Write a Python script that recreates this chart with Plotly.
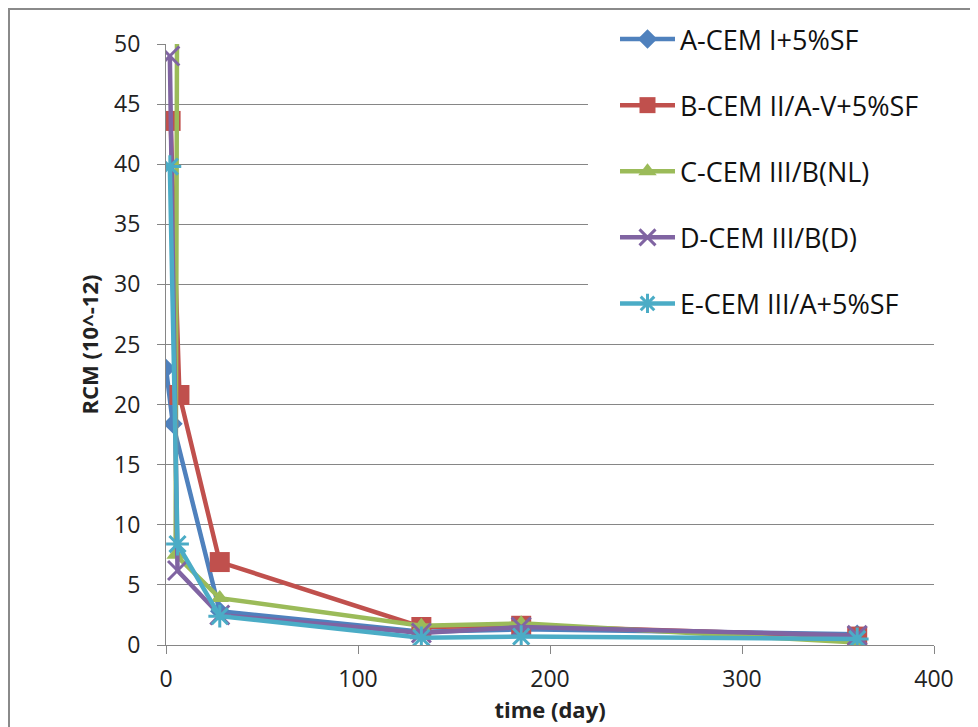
import plotly.graph_objects as go

# ---- data ----
series_names = ["A-CEM I+5%SF", "B-CEM II/A-V+5%SF", "C-CEM III/B(NL)", "D-CEM III/B(D)", "E-CEM III/A+5%SF"]
days_A = [0, 3.6, 28, 133, 185, 360]
rcm_A = [23.0, 18.4, 2.8, 1.1, 1.3, 0.9]
days_B = [2.4, 7, 28, 133, 185, 360]
rcm_B = [43.6, 20.8, 6.9, 1.5, 1.6, 0.7]
days_C = [5.8, 5.0, 28, 133, 185, 360]
rcm_C = [55.0, 7.5, 3.9, 1.6, 1.8, 0.2]
days_D = [2, 6, 28, 133, 185, 360]
rcm_D = [49.0, 6.2, 2.5, 1.0, 1.5, 0.8]
days_E = [2, 6, 28, 133, 185, 360]
rcm_E = [39.8, 8.4, 2.4, 0.6, 0.7, 0.5]

x_ticks = [0, 100, 200, 300, 400]
y_ticks = [0, 5, 10, 15, 20, 25, 30, 35, 40, 45, 50]

colors = ["#4F81BD", "#C0504D", "#9BBB59", "#8064A2", "#4BACC6"]
symbols = ["diamond", "square", "triangle-up", "x-thin-open", "asterisk-open"]
sizes = [15, 20, 16, 19, 19]
mline = [0, 0, 0, 3, 3]

xs = [days_A, days_B, days_C, days_D, days_E]
ys = [rcm_A, rcm_B, rcm_C, rcm_D, rcm_E]

# the page body has an 8px default margin: compensate so screen pixels match
OFF = 8
W, H = 978 - OFF, 727 - OFF
# plot area in screen pixels: x 166..934, y 44..645
SX0, SX1, SY0, SY1 = 166, 934, 44, 645
ML, MT = SX0 - OFF, SY0 - OFF
MR, MB = W - (SX1 - OFF), H - (SY1 - OFF)
PW, PH = SX1 - SX0, SY1 - SY0


def px_x(p):  # screen pixel -> paper x
    return (p - SX0) / PW


def px_y(p):  # screen pixel -> paper y
    return (SY1 - p) / PH


fig = go.Figure()
for i in range(5):
    fig.add_trace(go.Scatter(
        x=xs[i], y=ys[i], name=series_names[i], mode="lines+markers",
        legendgroup=str(i),
        line=dict(color=colors[i], width=4.5),
        marker=dict(symbol=symbols[i], size=sizes[i], color=colors[i],
                    line=dict(color=colors[i], width=mline[i])),
    ))

font_family = "Open Sans, Lato, sans-serif"

fig.update_layout(
    width=W, height=H,
    margin=dict(l=ML, r=MR, t=MT, b=MB, autoexpand=False),
    paper_bgcolor="white", plot_bgcolor="white",
    font=dict(family=font_family, color="#222222"),
    showlegend=True,
    legend=dict(
        x=px_x(615), y=px_y(15), xanchor="left", yanchor="top",
        bgcolor="rgba(0,0,0,0)", borderwidth=0,
        font=dict(size=27, family=font_family, color="#111111"),
        traceorder="grouped", tracegroupgap=28, itemwidth=55,
    ),
    xaxis=dict(
        range=[0, 400], tickvals=x_ticks, showgrid=False, zeroline=False,
        showline=True, linecolor="#868686", linewidth=1,
        ticks="outside", ticklen=8, tickcolor="#868686",
        tickfont=dict(size=23), ticklabelstandoff=5,
        title=dict(text="<b>time (day)</b>", font=dict(size=22), standoff=2),
    ),
    yaxis=dict(
        range=[0, 50], tickvals=y_ticks, showgrid=True, gridcolor="#868686", gridwidth=1,
        zeroline=False, showline=True, linecolor="#868686", linewidth=1,
        ticks="outside", ticklen=8, tickcolor="#868686",
        tickfont=dict(size=23), ticklabelstandoff=12,
        title=dict(text="<b>RCM (10^-12)</b>", font=dict(size=22), standoff=9),
    ),
    shapes=[
        # white backing behind legend
        dict(type="rect", xref="paper", yref="paper", layer="above",
             x0=px_x(588), x1=px_x(950), y0=px_y(322), y1=px_y(20),
             fillcolor="white", line=dict(width=0)),
        # chart-area border
        dict(type="rect", xref="paper", yref="paper", layer="above",
             x0=px_x(9), x1=px_x(1000), y0=px_y(760), y1=px_y(9),
             fillcolor="rgba(0,0,0,0)", line=dict(color="#8a8a8a", width=2)),
    ],
)

fig.write_html("out.html")
